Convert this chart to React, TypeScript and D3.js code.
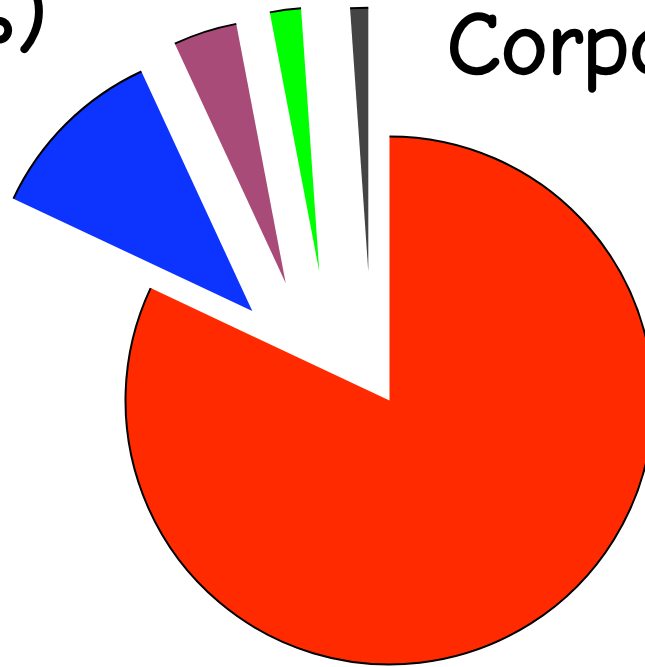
import React from "react";
import * as d3 from "d3";

// Slice data (share, %), drawn clockwise from 12 o'clock
const categories = ["Corporate", "Government", "Municipal", "Agency", "Other"];
const shares = [82.0, 11.1, 3.9, 1.9, 1.1];

// Visual settings
const colors = ["#ff2a00", "#0d33ff", "#a94b78", "#00ff00", "#444444"];
// Pull-out of each slice: distance (px) and direction (degrees clockwise from up)
const explodeDist = [0, 163.8, 156.6, 146.7, 130.5];
const explodeDir = [0, 303.1, 318.5, 331.4, 350.65];

const WIDTH = 645;
const HEIGHT = 667;
const CX = 389.5;
const CY = 400.5;
const RADIUS = 264;

export default function App() {
  const pie = d3
    .pie<number>()
    .sort(null)
    .value((d) => d)
    .startAngle(0)
    .endAngle(2 * Math.PI);
  const arcs = pie(shares);
  const arcGen = d3.arc<d3.PieArcDatum<number>>().innerRadius(0).outerRadius(RADIUS);

  const rimPath = (a0: number, a1: number) => {
    const p = d3.path();
    p.arc(0, 0, RADIUS, a0 - Math.PI / 2, a1 - Math.PI / 2, false);
    return p.toString();
  };

  const font = "'Comic Sans MS', 'Comic Neue', 'Liberation Sans', Arial, sans-serif";

  return (
    <svg
      width={WIDTH}
      height={HEIGHT}
      style={{ position: "absolute", left: 0, top: 0, background: "#fff" }}
    >
      <g transform={`translate(${CX},${CY})`}>
        {arcs.map((a, i) => {
          const dir = (explodeDir[i] * Math.PI) / 180;
          const dx = explodeDist[i] * Math.sin(dir);
          const dy = -explodeDist[i] * Math.cos(dir);
          return (
            <g key={categories[i]} transform={`translate(${dx},${dy})`}>
              <path d={arcGen(a) ?? ""} fill={colors[i]} stroke="none" />
              <path
                d={rimPath(a.startAngle, a.endAngle)}
                fill="none"
                stroke="#000"
                strokeWidth={2}
              />
            </g>
          );
        })}
      </g>
      <text
        x={47}
        y={42}
        textAnchor="end"
        fontFamily={font}
        fontSize={88}
        fill="#000"
        stroke="#000"
        strokeWidth={2.5}
        strokeLinejoin="round"
      >
        Share (%)
      </text>
      <text
        x={447}
        y={74}
        fontFamily={font}
        fontSize={88}
        fill="#000"
        stroke="#000"
        strokeWidth={2.5}
        strokeLinejoin="round"
      >
        Corporate
      </text>
    </svg>
  );
}
